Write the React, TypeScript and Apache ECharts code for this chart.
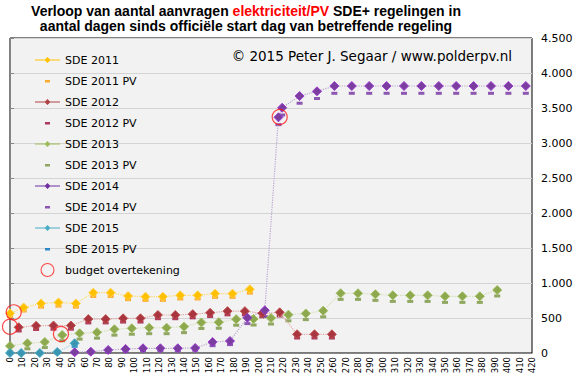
import React, { useEffect, useRef } from "react";
import * as echarts from "echarts";

const titleLine1 = "Verloop van aantal aanvragen {r|elektriciteit/PV} SDE+ regelingen in";
const titleLine2 = "aantal dagen sinds officiële start dag van betreffende regeling";
const copyrightText = "© 2015 Peter J. Segaar / www.polderpv.nl";

const days2011 = [0, 11, 25, 39, 53, 67, 81, 95, 109, 123, 137, 151, 165, 179, 193];
const sde2011 = [567, 650, 708, 722, 708, 862, 862, 814, 805, 805, 824, 824, 848, 848, 910];
const sde2011PV = [520, 600, 655, 670, 655, 808, 808, 762, 752, 752, 772, 772, 795, 795, 855];

const days2012 = [7, 21, 35, 49, 63, 77, 91, 105, 119, 133, 147, 161, 175, 189, 203, 217, 231, 245, 259];
const sde2012 = [367, 388, 392, 392, 484, 484, 495, 495, 543, 543, 555, 574, 598, 598, 567, 581, 267, 267, 267];
const sde2012PV = [315, 336, 340, 340, 430, 430, 442, 442, 490, 490, 502, 521, 545, 545, 514, 528, 214, 214, 214];

const days2013 = [0, 14, 28, 42, 56, 70, 84, 98, 112, 126, 140, 154, 168, 182, 196, 210, 224, 238, 252, 266, 280, 294, 308, 322, 336, 350, 364, 378, 392];
const sde2013 = [100, 139, 157, 257, 281, 296, 339, 353, 361, 361, 376, 436, 440, 483, 486, 500, 547, 564, 604, 853, 853, 839, 824, 824, 824, 810, 810, 810, 900];
const sde2013PV = [20, 60, 78, 175, 198, 212, 255, 268, 276, 276, 291, 350, 354, 397, 400, 414, 460, 477, 517, 766, 766, 752, 737, 737, 737, 723, 723, 723, 815];

const days2014 = [52, 65, 79, 93, 107, 121, 135, 149, 163, 177, 191, 205, 216, 219, 233, 247, 261, 275, 289, 303, 317, 331, 345, 359, 373, 387, 401, 415];
const sde2014 = [10, 19, 43, 57, 67, 67, 67, 71, 157, 171, 504, 610, 3367, 3504, 3671, 3738, 3814, 3814, 3814, 3814, 3814, 3814, 3814, 3814, 3814, 3814, 3814, 3814];
const sde2014PV = [0, 0, 15, 25, 35, 35, 35, 40, 105, 120, 420, 520, 3262, 3400, 3568, 3636, 3710, 3710, 3710, 3710, 3710, 3710, 3710, 3710, 3710, 3710, 3710, 3710];

const days2015 = [0, 9, 24, 38, 52];
const sde2015 = [0, 0, 0, 14, 139];
const sde2015PV = [0, 0, 0, 0, 95];

const budgetDays = [0, 3, 41, 217];
const budgetValues = [376, 581, 271, 3371];

const xMin = 0;
const xMax = 420;
const xStep = 10;
const yMin = 0;
const yMax = 4500;
const yStep = 500;

const zip = (d: number[], v: number[]) => d.map((x, i) => [x, v[i]]);

const FONT = "DejaVu Sans";

const lineIcon = "path://M0,0M25,14M0,6.5h25v1h-25zM12.5,4L15.5,7L12.5,10L9.5,7Z";
const dashIcon = "path://M0,0M25,14M10,6h5v2.5h-5z";
const ringIcon =
  "path://M0,0M25,15M5,7.5a7.5,7.5 0 1,0 15,0a7.5,7.5 0 1,0 -15,0zM6.1,7.5a6.4,6.4 0 1,1 12.8,0a6.4,6.4 0 1,1 -12.8,0z";

const mainSeries = [
  { name: "SDE 2011", days: days2011, vals: sde2011, fill: "#FFC000", edge: "#FFD34D", line: "#FFD966", legend: "#FFC000" },
  { name: "SDE 2012", days: days2012, vals: sde2012, fill: "#A8353F", edge: "#C0504D", line: "#E0A3A2", legend: "#B04444" },
  { name: "SDE 2013", days: days2013, vals: sde2013, fill: "#8DA84E", edge: "#9BBB59", line: "#D2DFB5", legend: "#9BBB59" },
  { name: "SDE 2014", days: days2014, vals: sde2014, fill: "#7A3E9E", edge: "#9A3ACF", line: "#B9A6CF", legend: "#7030A0" },
  { name: "SDE 2015", days: days2015, vals: sde2015, fill: "#3A96B0", edge: "#4BACC6", line: "#9DD1E0", legend: "#4BACC6" },
];

const pvSeries = [
  { name: "SDE 2011 PV", days: days2011, vals: sde2011PV, color: "#FF9900" },
  { name: "SDE 2012 PV", days: days2012, vals: sde2012PV, color: "#9B0A3A" },
  { name: "SDE 2013 PV", days: days2013, vals: sde2013PV, color: "#77933C" },
  { name: "SDE 2014 PV", days: days2014, vals: sde2014PV, color: "#7030A0" },
  { name: "SDE 2015 PV", days: days2015, vals: sde2015PV, color: "#0070C0" },
];

export default function App() {
  const ref = useRef<HTMLDivElement>(null);

  useEffect(() => {
    if (!ref.current) return;
    document.body.style.margin = "0";
    const chart = echarts.init(ref.current, undefined, { renderer: "svg" });

    const series: any[] = [];
    const legendData: any[] = [];
    mainSeries.forEach((m, i) => {
      const p = pvSeries[i];
      series.push({
        name: m.name,
        type: "line",
        data: zip(m.days, m.vals),
        symbol: "diamond",
        symbolSize: 9,
        showSymbol: true,
        clip: false,
        lineStyle: { type: "dotted", width: 1.2, color: m.line },
        itemStyle: { color: m.fill, borderColor: m.edge, borderWidth: 1 },
        z: 3,
      });
      series.push({
        name: p.name,
        type: "scatter",
        data: zip(p.days, p.vals),
        symbol: "rect",
        symbolSize: [6, 3],
        itemStyle: { color: p.color },
        z: 2,
      });
      legendData.push({ name: m.name, icon: lineIcon, itemStyle: { color: m.legend, borderWidth: 0 } });
      legendData.push({ name: p.name, icon: dashIcon, itemStyle: { color: p.color, borderWidth: 0 } });
    });
    series.push({
      name: "budget overtekening",
      type: "scatter",
      data: zip(budgetDays, budgetValues),
      symbol: "circle",
      symbolSize: 15,
      clip: false,
      itemStyle: { color: "rgba(255,255,255,0)", borderColor: "#FF1A1A", borderWidth: 1.2 },
      z: 6,
    });
    legendData.push({ name: "budget overtekening", icon: ringIcon, itemStyle: { color: "#FF1A1A", borderWidth: 0 } });

    chart.setOption({
      animation: false,
      backgroundColor: "#FFFFFF",
      grid: {
        left: 10,
        right: 45,
        top: 38,
        bottom: 28,
        show: true,
        backgroundColor: "#F2F2F2",
        borderColor: "#000000",
        borderWidth: 1,
      },
      xAxis: {
        type: "value",
        min: xMin,
        max: xMax,
        interval: xStep,
        axisLine: { show: true, lineStyle: { color: "#868686", width: 1 } },
        axisTick: { show: false },
        splitLine: { show: false },
        axisLabel: {
          rotate: 90,
          fontFamily: FONT,
          fontSize: 8.5,
          color: "#000",
          margin: 4,
          showMinLabel: true,
          showMaxLabel: true,
        },
      },
      yAxis: {
        type: "value",
        position: "right",
        min: yMin,
        max: yMax,
        interval: yStep,
        axisLine: { show: true, lineStyle: { color: "#868686", width: 1 } },
        axisTick: { show: true, inside: false, length: 4, lineStyle: { color: "#868686" } },
        splitLine: { show: true, lineStyle: { color: "#D4D4D4", width: 1 } },
        axisLabel: {
          fontFamily: FONT,
          fontSize: 11,
          color: "#000",
          margin: 9,
          formatter: (v: number) =>
            v >= 1000 ? `${Math.floor(v / 1000)}.${String(v % 1000).padStart(3, "0")}` : String(v),
        },
      },
      legend: {
        orient: "vertical",
        left: 35,
        top: 53,
        itemWidth: 25,
        itemHeight: 14,
        itemGap: 7,
        padding: 0,
        selectedMode: false,
        itemStyle: { borderWidth: 0 },
        textStyle: { fontFamily: FONT, fontSize: 11, color: "#000" },
        data: legendData,
      },
      graphic: [
        {
          type: "text",
          x: 246,
          y: 3,
          z: 10,
          style: {
            text: titleLine1 + "\n" + titleLine2,
            font: 'bold 14px "Liberation Sans"',
            fill: "#000",
            align: "center",
            verticalAlign: "top",
            lineHeight: 15,
            rich: {
              r: { fill: "#FF0000", fontWeight: "bold", fontSize: 14, fontFamily: "Liberation Sans", lineHeight: 15 },
            },
          },
        },
        {
          type: "text",
          x: 512,
          y: 56,
          z: 10,
          style: {
            text: copyrightText,
            font: `13.5px "${FONT}"`,
            fill: "#000",
            align: "right",
            verticalAlign: "middle",
          },
        },
      ],
      series,
    });

    return () => chart.dispose();
  }, []);

  return (
    <div
      ref={ref}
      style={{ position: "fixed", left: 0, top: 0, width: 577, height: 381 }}
    />
  );
}
